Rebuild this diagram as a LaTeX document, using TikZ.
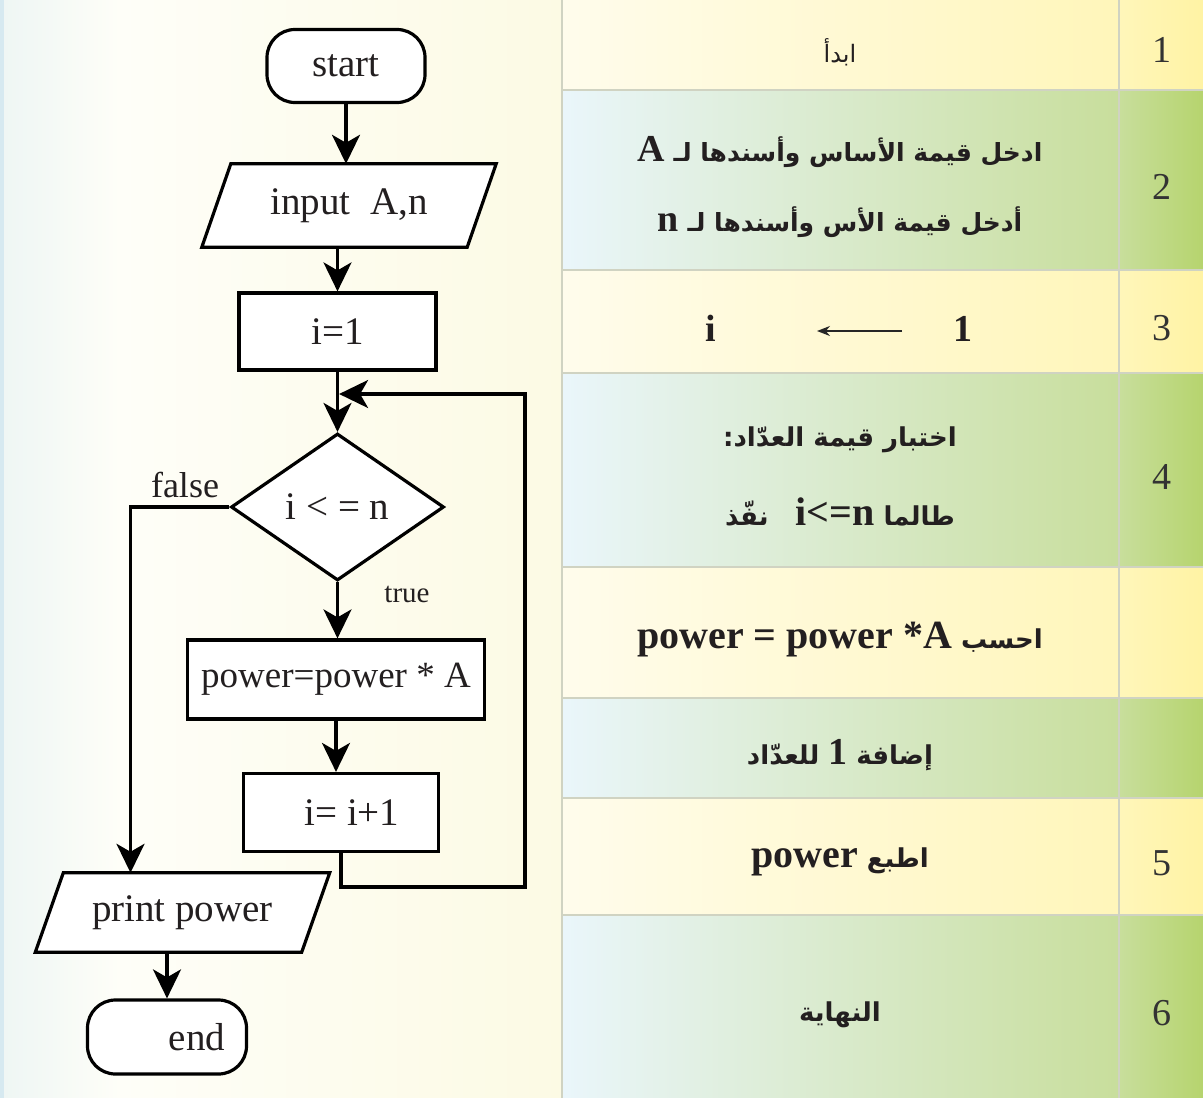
\documentclass[tikz,border=0pt]{standalone}
\usepackage{fontspec}
\setmainfont{Liberation Serif}
\newfontfamily\arabicfont[Script=Arabic]{DejaVu Sans}
\TeXXeTstate=1
\usetikzlibrary{arrows.meta,shapes.geometric}
\pgfdeclarelayer{bgl}
\pgfdeclarelayer{shp}
\pgfsetlayers{bgl,shp,main}
\definecolor{ylL}{HTML}{FFFCEC}
\definecolor{ylR}{HTML}{FFF6BA}
\definecolor{ylN}{HTML}{FFF3A4}
\definecolor{bgL}{HTML}{EAF6FB}
\definecolor{bgM}{HTML}{E3EFE0}
\definecolor{bgR}{HTML}{C8DE9C}
\definecolor{bgN}{HTML}{B6D46E}
\definecolor{gridc}{HTML}{D0D3C2}
\definecolor{txt}{HTML}{231F20}
\definecolor{lpA}{HTML}{EEF6F4}
\definecolor{lpB}{HTML}{FEFEF8}
\definecolor{lpC}{HTML}{FCFAE4}
\definecolor{lpS}{HTML}{D6E9F0}
\newcommand\fs[1]{\fontsize{#1}{#1}\selectfont}
\newcommand\lb[2][36]{{\normalfont\bfseries\fs{#1}#2}}
\begin{document}
\begin{tikzpicture}[x=1pt,y=-1pt,
  fc/.style={draw=black,line width=3.2pt,fill=white,inner sep=0pt,font=\fs{39},text=txt},
  term/.style={fc,rounded corners=28pt},
  proc/.style={fc,rectangle},
  io/.style={inner sep=0pt,font=\fs{39},text=txt},
  arr/.style={line width=3.2pt,-{Stealth[length=29pt,width=28pt,inset=8pt]}},
  tline/.style={line width=3.2pt},
  ar/.style={font=\arabicfont\bfseries\fs{26},text=txt},
  arr3/.style={line width=1.6pt,draw=black!85,-{Stealth[length=13pt,width=10pt]}},
  num/.style={font=\fs{38},text=black!80},
  grid/.style={draw=gridc,line width=2pt},
]
\useasboundingbox (0,0) rectangle (1203,1098);

% ---------- backgrounds ----------
\begin{pgfonlayer}{bgl}
\shade[left color=lpA,right color=lpB] (0,0) rectangle (120,1098);
\shade[left color=lpB,right color=lpC] (120,0) rectangle (562,1098);
\fill[lpS] (0,0) rectangle (4,1098);
% yellow rows
\foreach \ya/\yb in {0/90,270/373,567/698,798/915}{
  \shade[left color=ylL,right color=ylR] (562,\ya) rectangle (1119,\yb);
  \shade[left color=ylR,right color=ylN] (1119,\ya) rectangle (1203,\yb);
}
% blue-green rows
\foreach \ya/\yb in {90/270,373/567,698/798,915/1098}{
  \shade[left color=bgL,middle color=bgM,right color=bgR] (562,\ya) rectangle (1119,\yb);
  \shade[left color=bgR,right color=bgN] (1119,\ya) rectangle (1203,\yb);
}
\foreach \y in {90,270,373,567,698,798,915}{
  \draw[grid] (562,\y) -- (1203,\y);
}
\draw[grid] (562,0) -- (562,1098);
\draw[grid] (1119,0) -- (1119,1098);
\end{pgfonlayer}

% ---------- flowchart nodes ----------
\node[term,minimum width=158pt,minimum height=73pt] (start) at (346,66) {start};
\node[io,minimum width=265pt,minimum height=83pt] (inp) at (349,205.5) {input\ \ A,n};
\node[proc,minimum width=197pt,minimum height=77pt] (i1) at (337.5,331.5) {i=1};
\node[fc,diamond,aspect=1.45,minimum width=213pt,minimum height=147pt] (dia) at (337.5,507) {i < = n};
\node[proc,minimum width=297pt,minimum height=79pt,font=\fs{37}] (pw) at (336,679.5) {power=power * A};
\node[proc,minimum width=195pt,minimum height=78pt] (inc) at (341,812.5) {\hspace*{22pt}i= i+1};
\node[io,minimum width=266pt,minimum height=79pt] (pp) at (182.5,912.5) {print power};
\node[term,minimum width=159pt,minimum height=74pt] (end) at (167,1037) {\hspace*{60pt}end};

\node[font=\fs{36},text=txt,anchor=base] (fl) at (185,497) {false};
\node[font=\fs{29},text=txt,anchor=base] (tl) at (407,602) {true};

\coordinate (jn) at (337.5,394);
\coordinate (lp) at (525,887);
\coordinate (fx) at (130.5,0);

\begin{pgfonlayer}{shp}
\draw[tline,fill=white] ([xshift=14.5pt]inp.north west) -- ([xshift=14.5pt]inp.north east)
   -- ([xshift=-14.5pt]inp.south east) -- ([xshift=-14.5pt]inp.south west) -- cycle;
\draw[tline,fill=white] ([xshift=14pt]pp.north west) -- ([xshift=14pt]pp.north east)
   -- ([xshift=-14pt]pp.south east) -- ([xshift=-14pt]pp.south west) -- cycle;
\end{pgfonlayer}

% ---------- connectors ----------
\draw[arr] (start.south) -- (start.south |- inp.north);
\draw[arr] (i1.north |- inp.south) -- (i1.north);
\draw[arr] (i1.south) -- (dia.north);
\draw[arr] (dia.south) -- (dia.south |- pw.north);
\draw[arr] (pw.south) -- (pw.south |- inc.north);
\draw[arr,shorten >=1.6pt] (inc.south) |- (lp) |- (jn);
\draw[arr] (dia.west) -| (pp.north -| fx);
\draw[arr] (end.north |- pp.south) -- (end.north);

% ---------- table text ----------
\node[font=\arabicfont\fs{24},text=txt] (t1) at (840,52) {\beginR ابدأ\endR};
\node[ar,font=\arabicfont\bfseries\fs{25}] (t2a) at (840,152) {\beginR ادخل قيمة الأساس وأسندها لـ \beginL\lb[38]{A}\endL\endR};
\node[ar,font=\arabicfont\bfseries\fs{25}] (t2b) at (840,222) {\beginR أدخل قيمة الأس وأسندها لـ \beginL\lb[38]{n}\endL\endR};
\node[font=\bfseries\fs{38},text=txt,anchor=base] (r3i) at (711,341) {i};
\node[font=\bfseries\fs{38},text=txt,anchor=base] (r3o) at (963,341) {1};
\coordinate (a3s) at (902,331);
\coordinate (a3e) at (817,331);
\draw[arr3] (a3s) -- (a3e);
\node[ar] (t4a) at (840,440) {\beginR اختبار قيمة العدّاد:\endR};
\node[ar] (t4b) at (840,512) {\beginR طالما \beginL\lb[40]{i<=n}\endL\ \ \ نفّذ\endR};
\node[ar] (t5) at (840,640) {\beginR احسب \beginL\lb[40]{power = power *A}\endL\endR};
\node[ar] (t6) at (840,755) {\beginR إضافة \beginL\lb[38]{1}\endL{} للعدّاد\endR};
\node[ar] (t7) at (840,862) {\beginR اطبع \beginL\lb[40]{power}\endL\endR};
\node[ar] (t8) at (840,1015) {\beginR النهاية\endR};

\node[num] (n1) at (1162,50) {1};
\node[num] (n2) at (1162,187) {2};
\node[num] (n3) at (1162,328) {3};
\node[num] (n4) at (1162,477) {4};
\node[num] (n5) at (1162,863) {5};
\node[num] (n6) at (1162,1013) {6};
\end{tikzpicture}
\end{document}
